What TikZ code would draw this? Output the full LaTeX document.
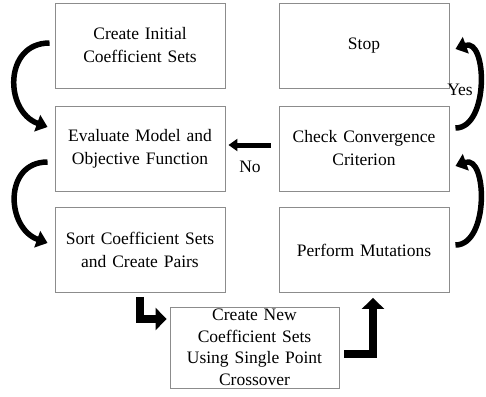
\documentclass[tikz,border=0pt]{standalone}
\usepackage{fontspec}
\setmainfont{Liberation Serif}
\usepackage{tikz}
\usetikzlibrary{arrows.meta,positioning,calc}
\definecolor{BoxLine}{HTML}{8C8C8C}
\begin{document}
\begin{tikzpicture}[x=1pt,y=-1pt,
  stage/.style={draw=BoxLine,line width=0.9pt,minimum width=170pt,minimum height=85pt,text width=165pt,align=center,inner sep=0pt,font=\fontsize{17.5}{23}\selectfont},
  loop/.style={-{Triangle[width=17pt,length=11pt]},line width=5.5pt,draw=black},
  elbow/.style={-{Triangle[width=22pt,length=11pt]},line width=8.5pt,draw=black},
  back/.style={-{Triangle[width=12pt,length=9pt]},line width=5pt,draw=black},
  lbl/.style={font=\fontsize{17.5}{23}\selectfont}
]
\useasboundingbox (0,0) rectangle (486,396);
\node[stage] (init) at (140,45.5) {Create Initial\\Coefficient Sets};
\node[stage] (eval) at (140,148.5) {Evaluate Model and\\Objective Function};
\node[stage] (sort) at (140,250) {Sort Coefficient Sets\\and Create Pairs};
\node[stage] (stop) at (364,46) {Stop};
\node[stage] (check) at (364,148.5) {Check Convergence\\Criterion};
\node[stage] (mut) at (364,250) {Perform Mutations};
\node[stage,minimum width=169pt,minimum height=81pt,font=\fontsize{17.5}{21.5}\selectfont] (cross) at (254.5,347.5) {Create New\\Coefficient Sets\\Using Single Point\\Crossover};
\node[lbl] (yes) at (460,90) {Yes};
\node[lbl] (no) at (250,167) {No};
% loops on the left
\draw[loop] ([xshift=-5pt,yshift=2.5pt]init.west) to[out=180,in=160,looseness=1.4] ([xshift=-7pt,yshift=21.5pt]eval.west);
\draw[loop] ([xshift=-7pt,yshift=-13.5pt]eval.west) to[out=180,in=160,looseness=1.4] ([xshift=-7pt,yshift=7pt]sort.west);
% loops on the right
\draw[loop] ([xshift=6pt,yshift=20.5pt]check.east) to[out=0,in=20,looseness=1.1] ([xshift=6pt,yshift=-3pt]stop.east);
\draw[loop] ([xshift=6pt,yshift=5pt]mut.east) to[out=0,in=20,looseness=1.1] ([xshift=6pt,yshift=-17.5pt]check.east);
% no
\draw[back] ([xshift=-8pt,yshift=3.5pt]check.west) -- ([xshift=3pt,yshift=3.5pt]eval.east);
% elbows
\draw[elbow] ([yshift=-4pt]sort.south) |- ([xshift=-3pt,yshift=28.5pt]cross.west);
\draw[elbow] ([xshift=5pt,yshift=-6.5pt]cross.east) -| ([xshift=9pt,yshift=-5pt]mut.south);
\end{tikzpicture}
\end{document}
